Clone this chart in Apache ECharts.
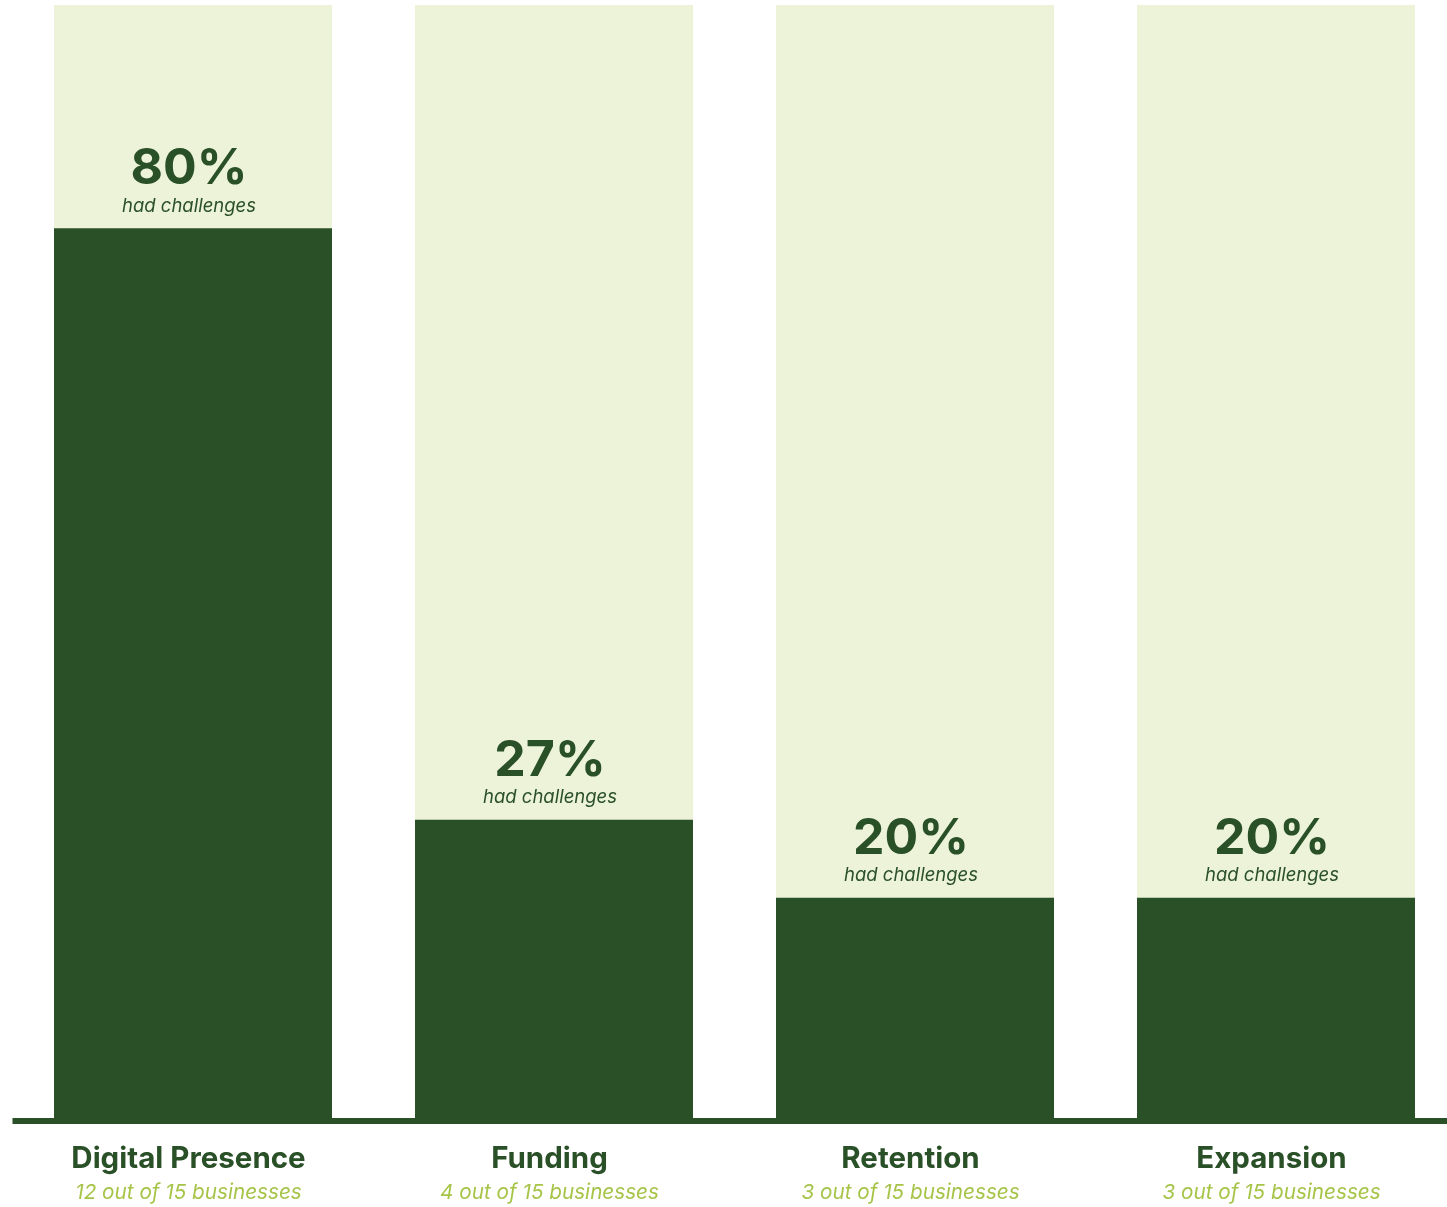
<!DOCTYPE html>
<html><head><meta charset="utf-8">
<script src="https://cdn.jsdelivr.net/npm/echarts@6/dist/echarts.min.js"></script>
<style>html,body{margin:0;padding:0;background:#fff;overflow:hidden}#c{width:1460px;height:1207px}</style>
</head><body><div id="c"></div>
<script>
const categories = ['Digital Presence', 'Funding', 'Retention', 'Expansion'];
const subtitles = ['12 out of 15 businesses', '4 out of 15 businesses', '3 out of 15 businesses', '3 out of 15 businesses'];
const values = [80, 27, 20, 20];
const valueNote = 'had challenges';

const DARK = '#2a5028';
const LIGHT = '#ecf3d8';
const LIME = '#a6c448';
const FONT = 'Inter';

const chart = echarts.init(document.getElementById('c'));
chart.setOption({
  animation: false,
  grid: { left: 12.5, width: 1444, top: 5, bottom: 86, containLabel: false },
  xAxis: {
    type: 'category',
    data: categories,
    axisLine: { show: true, lineStyle: { color: DARK, width: 6, cap: 'butt' } },
    axisTick: { show: false },
    axisLabel: {
      margin: 21,
      padding: [0, 9, 0, 0],
      formatter: (v, i) => '{t|' + v + '}\n{s|' + subtitles[i] + '}',
      rich: {
        t: { fontFamily: FONT, fontWeight: 'bold', fontSize: 29.5, color: DARK, lineHeight: 34 },
        s: { fontFamily: FONT, fontStyle: 'italic', fontSize: 20.7, color: LIME, lineHeight: 34 }
      }
    }
  },
  yAxis: { type: 'value', min: 0, max: 100, show: false, splitLine: { show: false } },
  series: [{
    type: 'bar',
    data: values,
    barWidth: 278,
    itemStyle: { color: DARK },
    showBackground: true,
    backgroundStyle: { color: LIGHT },
    label: {
      show: true,
      position: 'top',
      distance: 10,
      offset: [-4, 0],
      formatter: p => '{v|' + p.value + '%}\n{n|' + valueNote + '}',
      rich: {
        v: { fontFamily: FONT, fontWeight: 'bold', fontSize: 50, color: DARK, lineHeight: 50 },
        n: { fontFamily: FONT, fontStyle: 'italic', fontSize: 18.5, color: DARK, lineHeight: 24 }
      }
    }
  }]
});
</script></body></html>
